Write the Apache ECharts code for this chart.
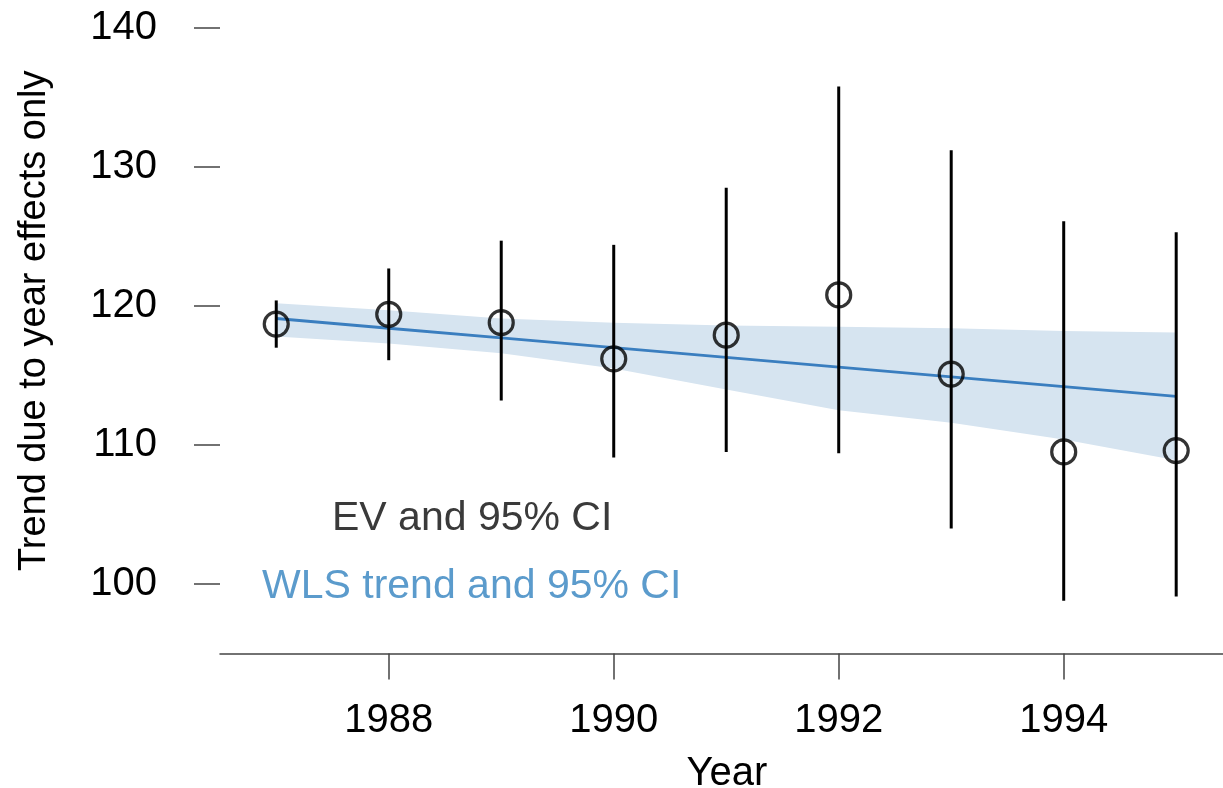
<!DOCTYPE html>
<html>
<head>
<meta charset="utf-8">
<script src="https://cdn.jsdelivr.net/npm/echarts@6/dist/echarts.min.js"></script>
<style>
  html, body { margin: 0; padding: 0; background: #fff; }
  #chart { width: 1223px; height: 788px; }
</style>
</head>
<body>
<div id="chart"></div>
<script>
// Year effects: expected values with 95% confidence intervals
const years = [1987, 1988, 1989, 1990, 1991, 1992, 1993, 1994, 1995];
const estimates = [118.7, 119.4, 118.8, 116.2, 117.9, 120.8, 115.1, 109.5, 109.6];
const ciLower = [117.0, 116.1, 113.2, 109.1, 109.5, 109.4, 104.0, 98.8, 99.1];
const ciUpper = [120.4, 122.7, 124.7, 124.4, 128.5, 135.8, 131.2, 126.1, 125.3];

// Weighted least squares trend and its 95% band
const trend = [119.1, 118.4, 117.7, 117.0, 116.3, 115.6, 114.9, 114.2, 113.5];
const trendLower = [117.8, 117.3, 116.6, 115.5, 114.0, 112.5, 111.6, 110.4, 108.9];
const trendUpper = [120.2, 119.7, 119.1, 118.8, 118.6, 118.5, 118.4, 118.2, 118.1];

// Axis ticks
const xTicks = [1988, 1990, 1992, 1994];
const yTicks = [100, 110, 120, 130, 140];

const FONT = '"Liberation Sans", Arial, sans-serif';
const chart = echarts.init(document.getElementById('chart'));

const bandData = years.map((y, i) => [y, trendLower[i], trendUpper[i]]);
const barData = years.map((y, i) => [y, ciLower[i], ciUpper[i]]);

chart.setOption({
  animation: false,
  backgroundColor: '#ffffff',
  grid: { left: 220, right: 0, top: 28, bottom: 134.5, containLabel: false, outerBoundsMode: 'none' },
  xAxis: {
    type: 'value',
    min: 1986.5,
    max: 1995.416,
    name: 'Year',
    nameLocation: 'middle',
    nameGap: 100,
    nameTextStyle: { fontFamily: FONT, fontSize: 40, color: '#000', padding: [0, 0, 0, 11] },
    splitLine: { show: false },
    axisLine: { show: true, onZero: false, lineStyle: { color: '#444', width: 1.5 } },
    axisTick: { show: true, length: 26, customValues: xTicks, lineStyle: { color: '#444', width: 1.5 } },
    axisLabel: { customValues: xTicks, margin: 47, fontFamily: FONT, fontSize: 40, color: '#000',
      formatter: v => String(v) }
  },
  yAxis: {
    type: 'value',
    min: 95,
    max: 140,
    name: 'Trend due to year effects only',
    nameLocation: 'middle',
    nameGap: 166,
    nameRotate: 90,
    nameTextStyle: { fontFamily: FONT, fontSize: 38, color: '#000', padding: [0, 0, 0, 40] },
    splitLine: { show: false },
    axisLine: { show: false },
    axisTick: { show: true, length: 26, customValues: yTicks, lineStyle: { color: '#444', width: 1.5 } },
    axisLabel: { customValues: yTicks, margin: 63, fontFamily: FONT, fontSize: 40, color: '#000' }
  },
  graphic: [
    { type: 'text', left: 332, top: 498,
      style: { text: 'EV and 95% CI', fontFamily: FONT, fontSize: 41, fill: '#3a3a3a', textAlign: 'left' } },
    { type: 'text', left: 262, top: 566,
      style: { text: 'WLS trend and 95% CI', fontFamily: FONT, fontSize: 41, fill: '#5b9bcc', textAlign: 'left' } }
  ],
  series: [
    {
      // WLS confidence band drawn as one polygon
      type: 'custom',
      z: 1,
      data: bandData,
      encode: { x: 0, y: [1, 2] },
      renderItem: function (params, api) {
        if (params.dataIndex !== 0) return null;
        const upper = bandData.map(d => api.coord([d[0], d[2]]));
        const lower = bandData.map(d => api.coord([d[0], d[1]])).reverse();
        return {
          type: 'polygon',
          shape: { points: upper.concat(lower) },
          style: { fill: '#d6e4f0', stroke: null }
        };
      }
    },
    {
      type: 'line',
      z: 2,
      data: years.map((y, i) => [y, trend[i]]),
      showSymbol: false,
      lineStyle: { color: '#3a7ebf', width: 2.8 },
      itemStyle: { color: '#3a7ebf' }
    },
    {
      // Vertical 95% CI bars
      type: 'custom',
      z: 3,
      data: barData,
      encode: { x: 0, y: [1, 2] },
      renderItem: function (params, api) {
        const p1 = api.coord([api.value(0), api.value(1)]);
        const p2 = api.coord([api.value(0), api.value(2)]);
        return {
          type: 'line',
          shape: { x1: p1[0], y1: p1[1], x2: p2[0], y2: p2[1] },
          style: { stroke: '#000', lineWidth: 3 }
        };
      }
    },
    {
      type: 'scatter',
      z: 4,
      data: years.map((y, i) => [y, estimates[i]]),
      symbol: 'circle',
      symbolSize: 24,
      itemStyle: { color: 'rgba(0,0,0,0)', borderColor: '#000', borderWidth: 3.2 }
    }
  ]
});
</script>
</body>
</html>
